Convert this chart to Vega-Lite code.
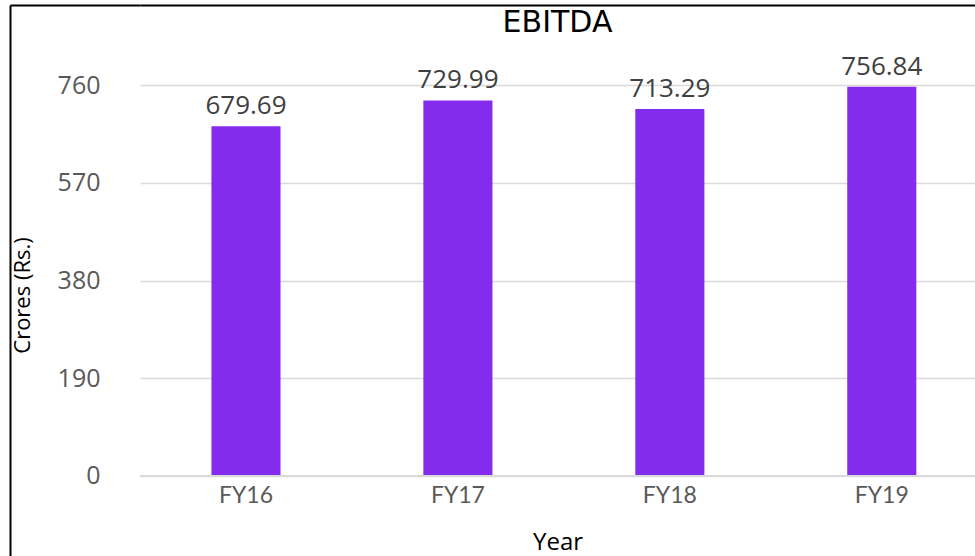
{
  "$schema": "https://vega.github.io/schema/vega-lite/v6.json",
  "autosize": "none",
  "width": 835,
  "height": 551,
  "padding": {"left": 140, "top": 5, "right": 0, "bottom": 0},
  "background": "white",
  "config": {"view": {"stroke": null}},
  "title": {
    "text": "EBITDA",
    "anchor": "middle",
    "frame": "group",
    "font": "DejaVu Sans",
    "fontSize": 30,
    "fontWeight": "normal",
    "color": "#000000",
    "offset": -34
  },
  "data": {
    "values": [
      {"year": "FY16", "ebitda": 679.69},
      {"year": "FY17", "ebitda": 729.99},
      {"year": "FY18", "ebitda": 713.29},
      {"year": "FY19", "ebitda": 756.84}
    ]
  },
  "resolve": {"axis": {"x": "independent", "y": "independent"}},
  "layer": [
    {
      "mark": {"type": "bar", "color": "#832cee"},
      "encoding": {
        "x": {
          "field": "year",
          "type": "nominal",
          "sort": null,
          "scale": {"paddingInner": 0.674, "paddingOuter": 0.307, "align": 0.549},
          "axis": {
            "orient": "bottom",
            "offset": -80,
            "domain": false,
            "ticks": false,
            "tickSize": 0,
            "labelPadding": 8,
            "labelAngle": 0,
            "labelFont": "Lato",
            "labelFontSize": 23,
            "labelColor": "#595959",
            "title": "Year",
            "titleFont": "Open Sans",
            "titleFontSize": 24,
            "titleFontWeight": "normal",
            "titleColor": "#000000",
            "titleBaseline": "alphabetic",
            "titleY": 73
          }
        },
        "y": {
          "field": "ebitda",
          "type": "quantitative",
          "scale": {"domain": [-155.5, 915.5], "nice": false, "zero": false},
          "axis": {
            "orient": "left",
            "values": [0, 190, 380, 570, 760],
            "domain": false,
            "ticks": false,
            "tickSize": 0,
            "labelPadding": 40,
            "labelFont": "Open Sans",
            "labelFontSize": 25,
            "labelColor": "#595959",
            "grid": true,
            "gridColor": "#d9d9d9",
            "gridWidth": 1.5,
            "title": "Crores (Rs.)",
            "titleFont": "Open Sans",
            "titleFontSize": 22,
            "titleFontWeight": "normal",
            "titleColor": "#000000",
            "titleAngle": -90,
            "titleAlign": "center",
            "titleBaseline": "alphabetic",
            "titleX": -111,
            "titleY": 290
          }
        },
        "y2": {"datum": 0}
      }
    },
    {
      "mark": {"type": "text", "baseline": "alphabetic", "dy": -12, "font": "Open Sans", "fontSize": 26, "color": "#404040"},
      "encoding": {
        "x": {"field": "year", "type": "nominal", "sort": null, "axis": null},
        "y": {
          "field": "ebitda",
          "type": "quantitative",
          "axis": {
            "orient": "left",
            "offset": 130,
            "domain": true,
            "domainColor": "#000000",
            "domainWidth": 2,
            "ticks": false,
            "labels": false,
            "grid": false,
            "title": null
          }
        },
        "text": {"field": "ebitda", "type": "quantitative", "format": ".2f"}
      }
    },
    {
      "mark": {"type": "rule", "color": "#d9d9d9", "strokeWidth": 1.5},
      "encoding": {
        "y": {
          "datum": 0,
          "type": "quantitative",
          "axis": {
            "orient": "left",
            "values": [915.5],
            "domain": false,
            "labels": false,
            "ticks": true,
            "tickSize": 130,
            "tickColor": "#000000",
            "tickWidth": 2,
            "grid": true,
            "gridColor": "#000000",
            "gridWidth": 2,
            "title": null
          }
        }
      }
    }
  ]
}
